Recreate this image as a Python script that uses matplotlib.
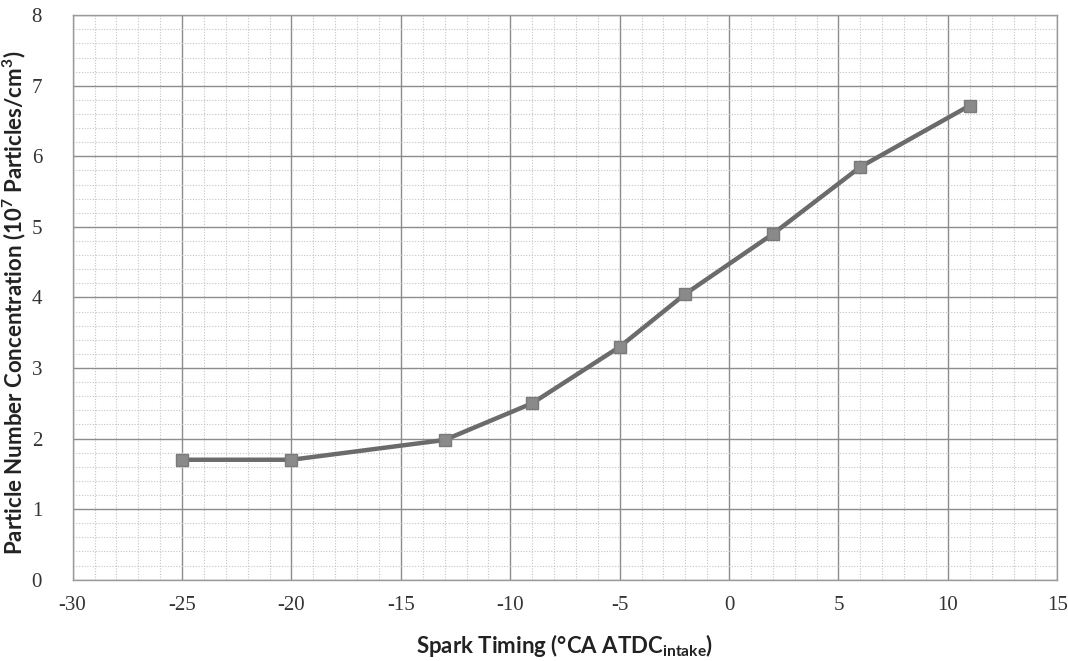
import matplotlib.pyplot as plt
from matplotlib.ticker import MultipleLocator

plt.rcParams["axes.unicode_minus"] = False

# Spark timing sweep (deg CA ATDC intake) vs particle number concentration
spark_timing = [-25, -20, -13, -9, -5, -2, 2, 6, 11]
pn_conc = [1.70, 1.70, 1.98, 2.50, 3.30, 4.05, 4.90, 5.85, 6.72]

x_ticks = [-30, -25, -20, -15, -10, -5, 0, 5, 10, 15]
y_ticks = [0, 1, 2, 3, 4, 5, 6, 7, 8]

fig = plt.figure(figsize=(10.68, 6.61), dpi=100)
ax = fig.add_axes([0.068, 0.123, 0.922, 0.854])

ax.plot(spark_timing, pn_conc, color="#6b6b6b", lw=3.2, marker="s",
        markersize=8, markerfacecolor="#8a8a8a", markeredgecolor="#7a7a7a",
        zorder=3)

ax.set_xlim(-30, 15)
ax.set_ylim(0, 8)
ax.set_xticks(x_ticks)
ax.set_yticks(y_ticks)
ax.xaxis.set_minor_locator(MultipleLocator(1))
ax.yaxis.set_minor_locator(MultipleLocator(0.2))

ax.grid(which="major", color="#8c8c8c", lw=1.0, ls="-")
ax.grid(which="minor", color="#c4c4c4", lw=0.8, ls=(0, (1, 1.5)))
ax.set_axisbelow(True)

for s in ax.spines.values():
    s.set_color("#9a9a9a")
    s.set_linewidth(1.0)

ax.tick_params(which="both", length=0)
ax.tick_params(axis="x", pad=12, labelsize=15, labelcolor="#333333")
ax.tick_params(axis="y", pad=22, labelsize=15, labelcolor="#333333")
for lab in ax.get_xticklabels() + ax.get_yticklabels():
    lab.set_family("Liberation Serif")

ax.set_xlabel(r"Spark Timing (°CA ATDC$_{\mathregular{intake}}$)",
              fontsize=16, family="Lato", fontweight="bold",
              color="#222222")
ax.set_ylabel(r"Particle Number Concentration (10$^{\mathregular{7}}$ Particles/cm$^{\mathregular{3}}$)",
              fontsize=16, family="Lato", fontweight="bold",
              color="#222222")
ax.xaxis.set_label_coords(0.5, -0.092)
ax.yaxis.set_label_coords(-0.045, 0.49)

fig.savefig("out.png", dpi=100)
